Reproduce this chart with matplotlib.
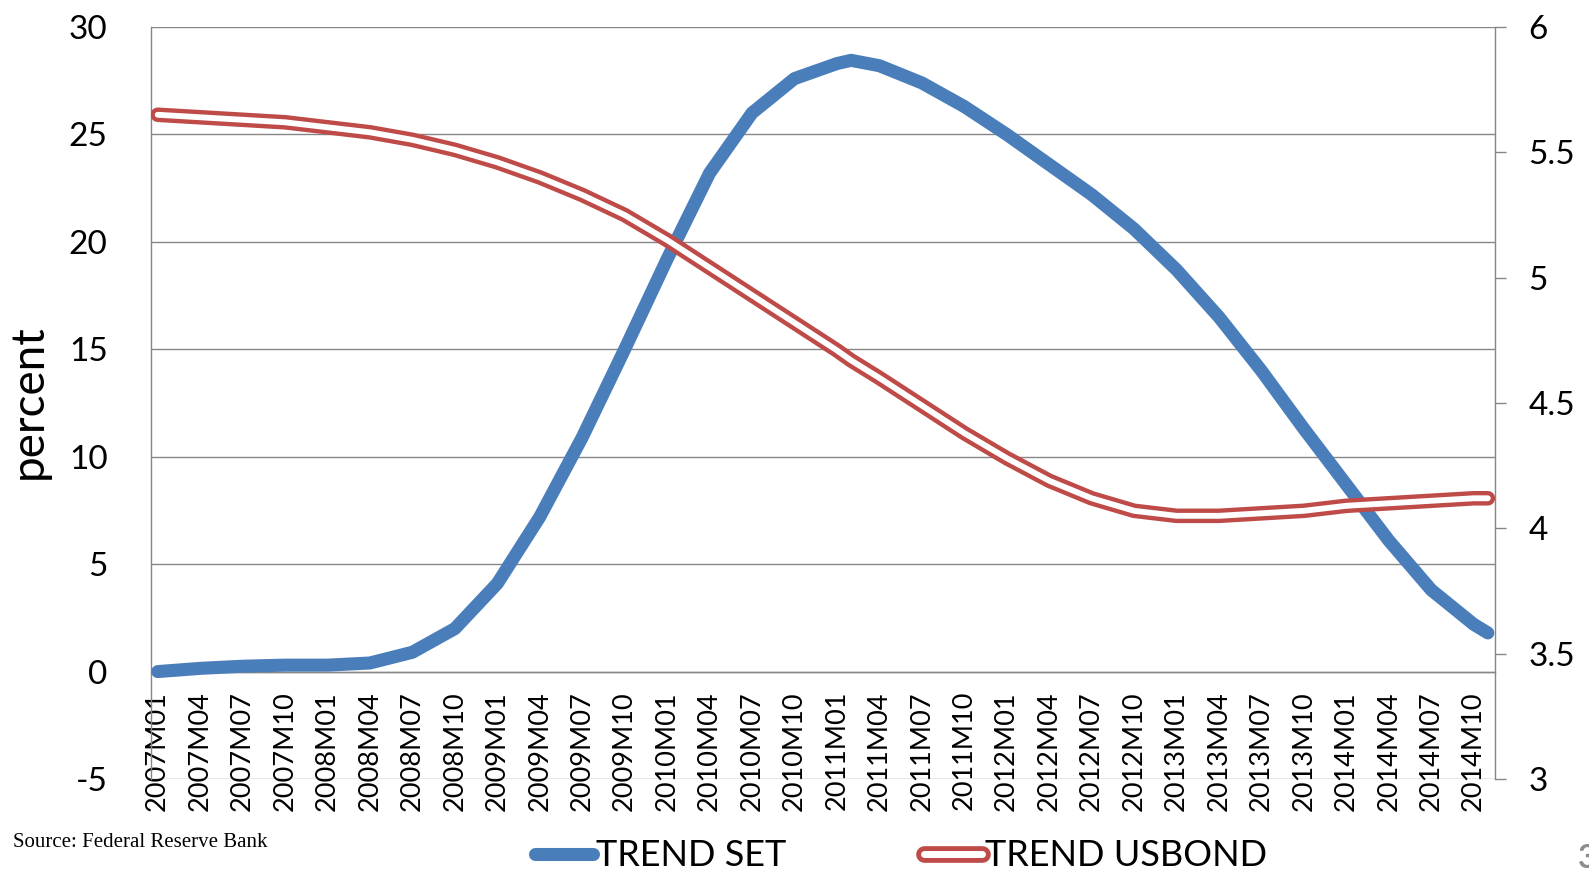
import matplotlib.pyplot as plt
from matplotlib.lines import Line2D

# monthly categories on the x axis, 2007M01 .. 2014M11
categories = [f"{y}M{m:02d}" for y in range(2007, 2015) for m in range(1, 13)][:95]
tick_labels = categories[::3]

# readings taken every quarter, plus the peak month and the last month
periods = tick_labels[:17] + ["2011M02"] + tick_labels[17:] + ["2014M11"]

trend_set = [
    0.0, 0.15, 0.25, 0.3, 0.3, 0.4, 0.9, 2.0,
    4.1, 7.2, 10.9, 15.0, 19.2, 23.2, 26.0, 27.6,
    28.3, 28.45, 28.2, 27.4, 26.3, 25.0, 23.6, 22.2, 20.6,
    18.7, 16.5, 14.0, 11.3, 8.7, 6.1, 3.8, 2.2, 1.8,
]

trend_usbond = [
    5.65, 5.64, 5.63, 5.62, 5.60, 5.58, 5.55, 5.51,
    5.46, 5.40, 5.33, 5.25, 5.15, 5.04, 4.93, 4.82,
    4.71, 4.67, 4.60, 4.49, 4.38, 4.28, 4.19, 4.12, 4.07,
    4.05, 4.05, 4.06, 4.07, 4.09, 4.10, 4.11, 4.12, 4.12,
]

left_ticks = [-5, 0, 5, 10, 15, 20, 25, 30]
right_ticks = [3, 3.5, 4, 4.5, 5, 5.5, 6]
right_labels = ["3", "3.5", "4", "4.5", "5", "5.5", "6"]

BLUE = "#4a7ebb"
RED = "#be4b48"
GRID = "#868686"

plt.rcParams["font.family"] = ["Lato", "DejaVu Sans"]

x = [categories.index(p) for p in periods]
tick_x = [categories.index(t) for t in tick_labels]

fig = plt.figure(figsize=(15.89, 8.75), dpi=100)
ax = fig.add_axes([0.0948, 0.1097, 0.846, 0.8594])
ax2 = ax.twinx()

# spine moved first: set_position resets the tick objects
for a in (ax, ax2):
    for s in a.spines.values():
        s.set_color(GRID)
        s.set_linewidth(1.0)
ax.spines["bottom"].set_position(("data", 0))
ax.spines["top"].set_visible(False)
ax2.spines["top"].set_visible(False)
ax2.spines["bottom"].set_visible(False)
ax2.spines["left"].set_visible(False)
ax.spines["right"].set_visible(False)

ax.plot(x, trend_set, color=BLUE, lw=9.4, solid_capstyle="round",
        solid_joinstyle="round", zorder=3)
ax2.plot(x, trend_usbond, color=RED, lw=10.5, solid_capstyle="round",
         solid_joinstyle="round", zorder=3)
ax2.plot(x, trend_usbond, color="white", lw=4.2, solid_capstyle="round",
         solid_joinstyle="round", zorder=4)

ax.set_xlim(-0.5, len(categories) - 0.5)
ax.set_ylim(-5, 30)
ax2.set_ylim(3, 6)

ax.set_yticks(left_ticks)
ax.set_yticklabels([str(t) for t in left_ticks])
ax.tick_params(axis="y", length=0, pad=31, labelsize=24)
ax.yaxis.grid(True, color=GRID, lw=1.0)
ax.set_axisbelow(True)

ax.set_xticks(tick_x)
ax.set_xticklabels(tick_labels)
ax.tick_params(axis="x", length=0, pad=14, labelsize=19.5, labelrotation=90)

ax2.set_yticks(right_ticks)
ax2.set_yticklabels(right_labels)
ax2.tick_params(axis="y", direction="out", length=8, width=1.0, color=GRID,
                pad=16, labelsize=24)

fig.text(29 / 1589, 1 - 402 / 875, "percent", rotation=90, fontsize=33,
         ha="center", va="center")

fig.text(13 / 1589, 1 - 847 / 875, "Source: Federal Reserve Bank",
         fontsize=15, family=["Liberation Serif", "DejaVu Serif"],
         ha="left", va="baseline")

fig.text(1578 / 1589, 1 - 868 / 875, "3", fontsize=23, fontweight="bold",
         color="#8c8c8c", ha="left", va="baseline")

h_set = Line2D([], [], color=BLUE, lw=9.4, solid_capstyle="round")
h_red = Line2D([], [], color=RED, lw=12, solid_capstyle="round")
h_white = Line2D([], [], color="white", lw=5, solid_capstyle="round")
fig.legend([h_set, (h_red, h_white)], ["TREND SET", "TREND USBOND"],
           loc="center left", bbox_to_anchor=(0.3367, 0.022), ncol=2,
           frameon=False, fontsize=26, handlelength=1.6, handletextpad=0.1,
           columnspacing=3.8, borderpad=0, borderaxespad=0)

fig.savefig("out.png", dpi=100)
